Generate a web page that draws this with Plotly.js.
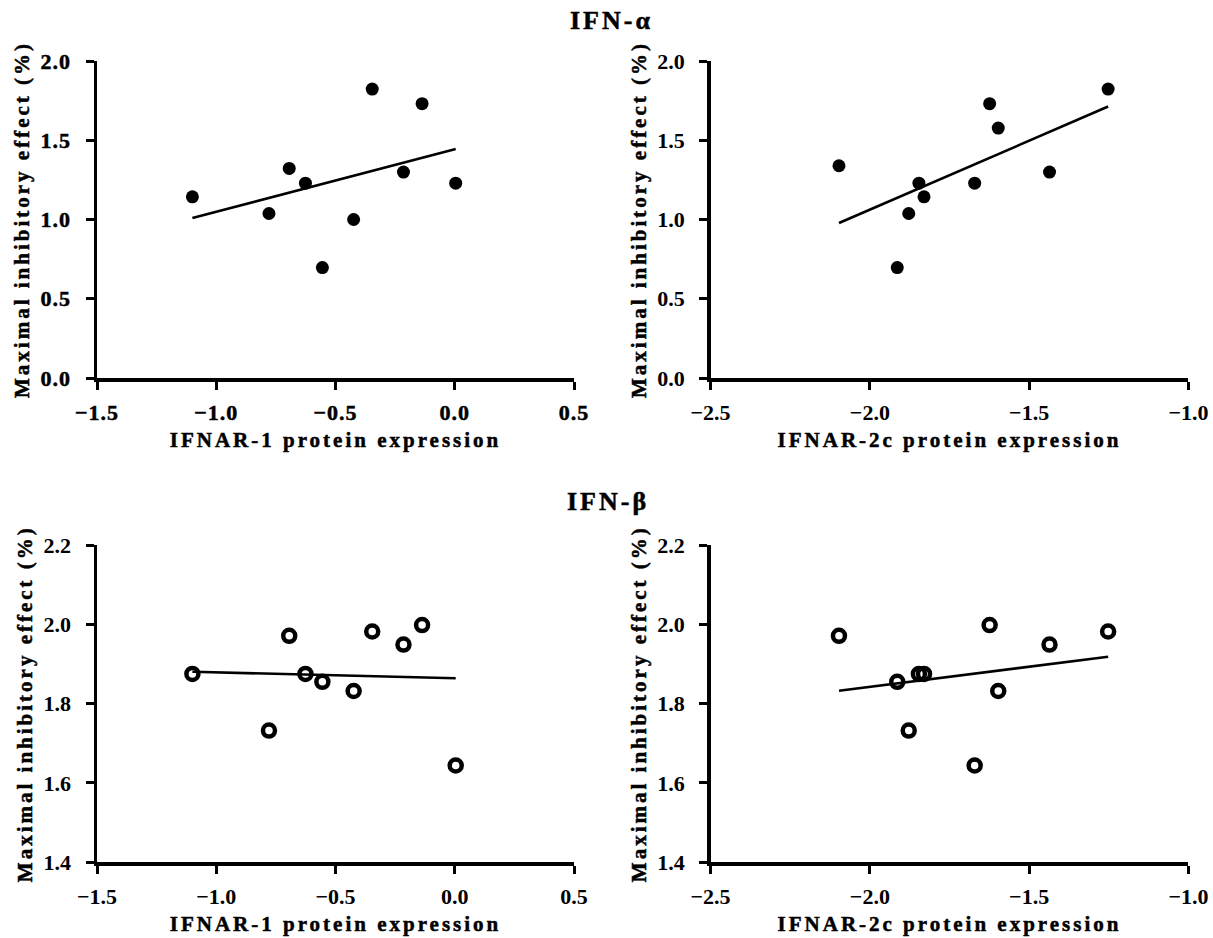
<!DOCTYPE html>
<html>
<head>
<meta charset="utf-8">
<script src="https://cdn.plot.ly/plotly-3.0.1.min.js"></script>
<style>
  html, body { margin: 0; padding: 0; background: #fff; }
  #chart { width: 1213px; height: 938px; }
  .xtick text, .ytick text { letter-spacing: 1px; stroke: #000; stroke-width: 0.5px; }
  text[class$="title"] { letter-spacing: 3px; stroke: #000; stroke-width: 0.5px; }
  .annotation-text { letter-spacing: 3px; stroke: #000; stroke-width: 0.5px; }
</style>
</head>
<body>
<div id="chart"></div>
<script>
// IFNAR-1 protein expression (x, left panels)
const ifnar1 = [-1.100, -0.779, -0.694, -0.626, -0.555, -0.424, -0.346, -0.215, -0.137, 0.004];
// IFNAR-2c protein expression (x, right panels)
const ifnar2c = [-2.097, -1.914, -1.878, -1.846, -1.830, -1.671, -1.624, -1.597, -1.436, -1.252];
// Maximal inhibitory effect (%) – IFN-alpha
const alphaVsIfnar1 = [1.143, 1.038, 1.322, 1.229, 0.697, 1.000, 1.823, 1.299, 1.731, 1.229];
const alphaVsIfnar2c = [1.339, 0.697, 1.038, 1.229, 1.143, 1.229, 1.731, 1.577, 1.299, 1.823];
// Maximal inhibitory effect (%) – IFN-beta
const betaVsIfnar1 = [1.875, 1.732, 1.971, 1.875, 1.855, 1.832, 1.982, 1.949, 1.998, 1.644];
const betaVsIfnar2c = [1.971, 1.855, 1.732, 1.875, 1.875, 1.644, 1.998, 1.832, 1.949, 1.982];

const panelTitles = ['IFN-α', 'IFN-β'];
const xTitles = ['IFNAR-1 protein expression', 'IFNAR-2c protein expression'];
const yTitle = 'Maximal inhibitory effect (%)';

function fitLine(xs, ys) {
  const n = xs.length;
  const mx = xs.reduce((a, b) => a + b, 0) / n;
  const my = ys.reduce((a, b) => a + b, 0) / n;
  let sxy = 0, sxx = 0;
  for (let i = 0; i < n; i++) { sxy += (xs[i] - mx) * (ys[i] - my); sxx += (xs[i] - mx) ** 2; }
  const b = sxy / sxx, a = my - b * mx;
  const x0 = Math.min(...xs), x1 = Math.max(...xs);
  return { x: [x0, x1], y: [a + b * x0, a + b * x1] };
}

const FONT = 'Liberation Serif, Times New Roman, serif';
const panels = [
  { xs: ifnar1, ys: alphaVsIfnar1, xa: 'x', ya: 'y', open: false },
  { xs: ifnar2c, ys: alphaVsIfnar2c, xa: 'x2', ya: 'y2', open: false },
  { xs: ifnar1, ys: betaVsIfnar1, xa: 'x3', ya: 'y3', open: true },
  { xs: ifnar2c, ys: betaVsIfnar2c, xa: 'x4', ya: 'y4', open: true }
];

const traces = [];
panels.forEach(p => {
  const f = fitLine(p.xs, p.ys);
  traces.push({
    x: f.x, y: f.y, xaxis: p.xa, yaxis: p.ya, mode: 'lines', type: 'scatter',
    line: { color: '#000', width: 2.6 }, hoverinfo: 'skip', showlegend: false
  });
  traces.push({
    x: p.xs, y: p.ys, xaxis: p.xa, yaxis: p.ya, mode: 'markers', type: 'scatter',
    marker: p.open
      ? { symbol: 'circle-open', size: 12, color: '#000', line: { color: '#000', width: 4.5 } }
      : { symbol: 'circle', size: 13, color: '#000' },
    cliponaxis: false, showlegend: false
  });
});

const tickFont = { family: FONT, size: 22, color: '#000', weight: 700 };
const titleFont = { family: FONT, size: 21, color: '#000', weight: 700 };

function xAxis(domain, range, title, anchor) {
  return {
    domain: domain, range: range, anchor: anchor, dtick: 0.5, tick0: 0, tickformat: '.1f',
    showline: true, linewidth: 3.5, linecolor: '#000', mirror: false,
    ticks: 'outside', ticklen: 8, tickwidth: 3, tickcolor: '#000',
    showgrid: false, zeroline: false, ticklabelstandoff: 4,
    tickfont: tickFont,
    title: { text: title, standoff: 9, font: titleFont },
    fixedrange: true
  };
}
function yAxis(domain, range, dtick, anchor) {
  return {
    domain: domain, range: range, anchor: anchor, dtick: dtick, tick0: 0, tickformat: '.1f',
    showline: true, linewidth: 3.5, linecolor: '#000', mirror: false,
    ticks: 'outside', ticklen: 8, tickwidth: 3, tickcolor: '#000',
    showgrid: false, zeroline: false, ticklabelstandoff: 10,
    tickfont: tickFont,
    title: { text: yTitle, standoff: 6, font: titleFont },
    fixedrange: true
  };
}

const W = 1213, H = 938;
const leftX = [97 / W, 574 / W];
const rightX = [710.6 / W, 1188.4 / W];
const topY = [1 - 378 / H, 1 - 61 / H];
const botY = [1 - 862.3 / H, 1 - 545 / H];

const layout = {
  width: W, height: H,
  margin: { l: 0, r: 0, t: 0, b: 0 },
  paper_bgcolor: '#fff', plot_bgcolor: '#fff',
  showlegend: false,
  xaxis: xAxis(leftX, [-1.5, 0.5], xTitles[0], 'y'),
  yaxis: yAxis(topY, [0, 2.0], 0.5, 'x'),
  xaxis2: xAxis(rightX, [-2.5, -1.0], xTitles[1], 'y2'),
  yaxis2: yAxis(topY, [0, 2.0], 0.5, 'x2'),
  xaxis3: xAxis(leftX, [-1.5, 0.5], xTitles[0], 'y3'),
  yaxis3: yAxis(botY, [1.4, 2.2], 0.2, 'x3'),
  xaxis4: xAxis(rightX, [-2.5, -1.0], xTitles[1], 'y4'),
  yaxis4: yAxis(botY, [1.4, 2.2], 0.2, 'x4'),
  annotations: [
    { text: panelTitles[0], xref: 'paper', yref: 'paper', x: 611 / W, y: 1 - 21 / H,
      xanchor: 'center', yanchor: 'middle', showarrow: false,
      font: { family: FONT, size: 26, color: '#000', weight: 700 } },
    { text: panelTitles[1], xref: 'paper', yref: 'paper', x: 608 / W, y: 1 - 501 / H,
      xanchor: 'center', yanchor: 'middle', showarrow: false,
      font: { family: FONT, size: 26, color: '#000', weight: 700 } }
  ]
};

Plotly.newPlot('chart', traces, layout, { displayModeBar: false, staticPlot: true });
</script>
</body>
</html>
